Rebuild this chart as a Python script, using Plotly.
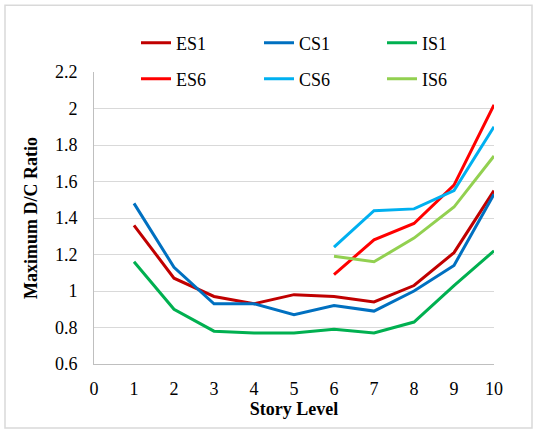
import plotly.graph_objects as go

stories_1 = [1, 2, 3, 4, 5, 6, 7, 8, 9, 10]
stories_6 = [6, 7, 8, 9, 10]

es1 = [1.36, 1.07, 0.97, 0.93, 0.98, 0.97, 0.94, 1.03, 1.21, 1.55]
cs1 = [1.48, 1.13, 0.93, 0.93, 0.87, 0.92, 0.89, 1.00, 1.14, 1.53]
is1 = [1.16, 0.90, 0.78, 0.77, 0.77, 0.79, 0.77, 0.83, 1.03, 1.22]
es6 = [1.09, 1.28, 1.37, 1.58, 2.02]
cs6 = [1.24, 1.44, 1.45, 1.55, 1.90]
is6 = [1.19, 1.16, 1.29, 1.46, 1.74]

x_ticks = [0, 1, 2, 3, 4, 5, 6, 7, 8, 9, 10]
y_ticks = [0.6, 0.8, 1.0, 1.2, 1.4, 1.6, 1.8, 2.0, 2.2]
y_ticktext = ["0.6", "0.8", "1", "1.2", "1.4", "1.6", "1.8", "2", "2.2"]

FONT = "Liberation Serif, Times New Roman, serif"

fig = go.Figure()
series = [
    ("ES1", stories_1, es1, "#C00000", "legend"),
    ("CS1", stories_1, cs1, "#0070C0", "legend"),
    ("IS1", stories_1, is1, "#00B050", "legend"),
    ("ES6", stories_6, es6, "#FF0000", "legend2"),
    ("CS6", stories_6, cs6, "#00B0F0", "legend2"),
    ("IS6", stories_6, is6, "#92D050", "legend2"),
]
for name, xs, ys, color, lg in series:
    fig.add_trace(go.Scatter(x=xs, y=ys, mode="lines", name=name,
                             line=dict(color=color, width=3), legend=lg))

legend_common = dict(orientation="h", font=dict(family=FONT, size=18, color="black"),
                     entrywidth=78, entrywidthmode="pixels",
                     bgcolor="rgba(0,0,0,0)", xanchor="left", yanchor="middle",
                     itemclick=False, tracegroupgap=0)

fig.update_layout(
    width=538, height=434,
    margin=dict(l=94, r=44, t=72, b=70),
    paper_bgcolor="white", plot_bgcolor="white",
    font=dict(family=FONT, size=18, color="black"),
    legend=dict(x=0.105, y=1.099, **legend_common),
    legend2=dict(x=0.105, y=0.976, **legend_common),
    xaxis=dict(range=[0, 10], tickvals=x_ticks, showgrid=False,
               showline=True, linecolor="#BFBFBF", linewidth=1,
               zeroline=False, ticks="", ticklabelstandoff=8,
               tickfont=dict(family=FONT, size=18),
               title=dict(text="<b>Story Level</b>", font=dict(family=FONT, size=18), standoff=2)),
    yaxis=dict(range=[0.6, 2.2], tickvals=y_ticks, ticktext=y_ticktext,
               showgrid=True, gridcolor="#D9D9D9", gridwidth=1,
               showline=True, linecolor="#BFBFBF", linewidth=1,
               zeroline=False, ticks="", ticklabelstandoff=12,
               tickfont=dict(family=FONT, size=18),
               title=dict(text="<b>Maximum D/C Ratio</b>", font=dict(family=FONT, size=18), standoff=12)),
    shapes=[dict(type="rect", xref="paper", yref="paper",
                 x0=-0.2225, x1=1.095, y0=-0.219, y1=1.229,
                 line=dict(color="#D9D9D9", width=1.5), fillcolor="rgba(0,0,0,0)", layer="above")],
)

fig.write_html("out.html", config={"displayModeBar": False},
               post_script="document.body.style.margin='0px';")
